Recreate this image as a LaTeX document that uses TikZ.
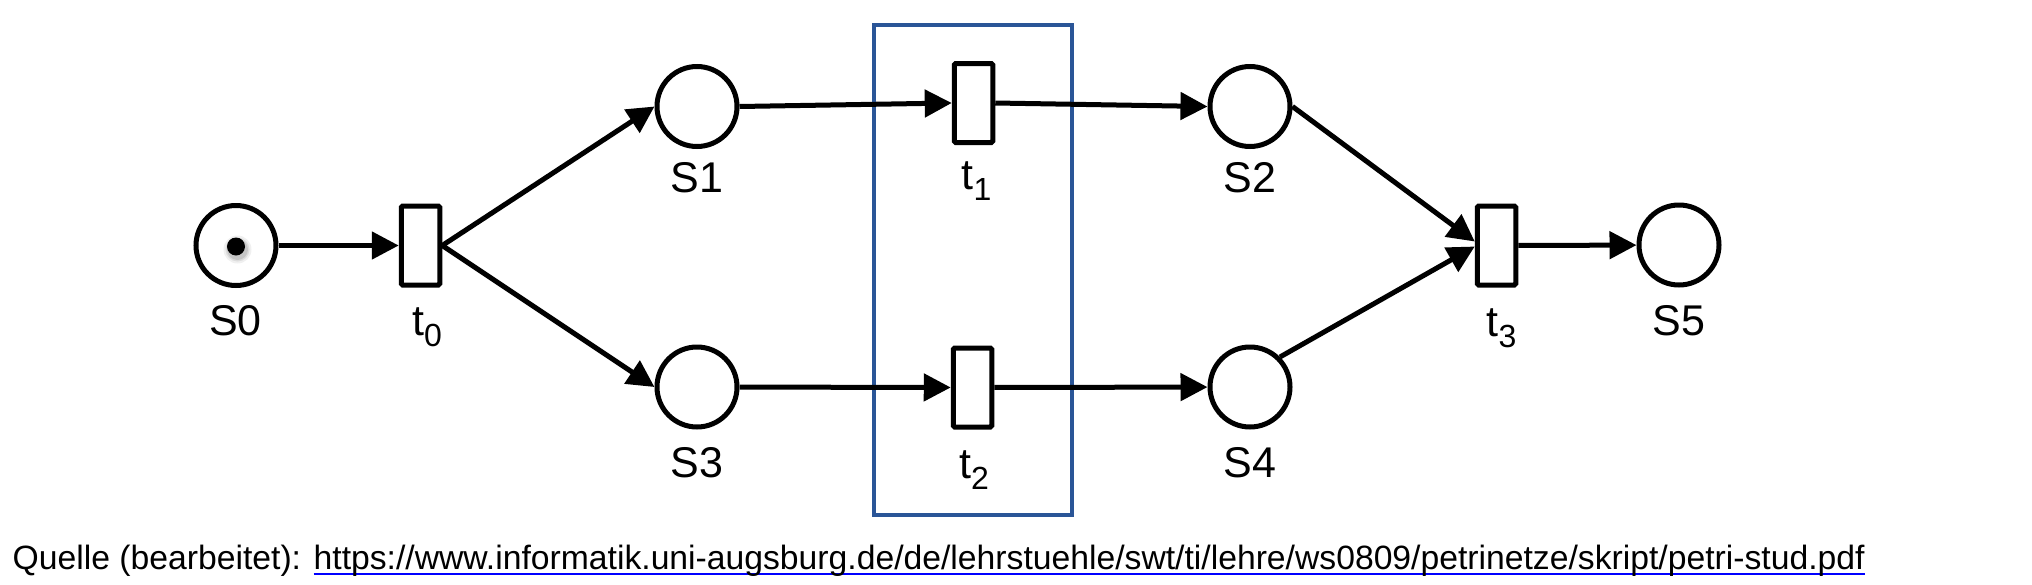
\documentclass[tikz,border=0pt]{standalone}
\usepackage{fontspec}
\setmainfont{Liberation Sans}
\usetikzlibrary{arrows.meta}
\definecolor{boxblue}{RGB}{42,85,151}
\definecolor{linkblue}{RGB}{0,0,255}
\newsavebox{\myurlbox}
\begin{document}
\begin{tikzpicture}[x=1pt,y=-1pt,
  place/.style={circle,draw,line width=5pt,minimum size=80pt,inner sep=0pt},
  trans/.style={rectangle,draw,fill=white,line width=5pt,minimum width=38.5pt,minimum height=79pt,inner sep=0pt,rounded corners=1.5pt},
  arc/.style={line width=5pt,-{Triangle[length=27pt,width=27pt]}},
  lbl/.style={font=\fontsize{43}{43}\selectfont,inner sep=0pt,anchor=base},
]
\useasboundingbox (0,0) rectangle (2032,584);
% highlight box
\node[draw=boxblue,line width=4pt,minimum width=198pt,minimum height=490pt,inner sep=0pt] (box) at (973,270) {};
% places
\node[place] (S0) at (236,245.5) {};
\node[place] (S1) at (697,106.5) {};
\node[place] (S3) at (697,387) {};
\node[place] (S2) at (1250,106.5) {};
\node[place] (S4) at (1250,387) {};
\node[place] (S5) at (1679,245) {};
% transitions
\node[trans] (t0) at (420.5,245.5) {};
\node[trans] (t1) at (973.5,103) {};
\node[trans] (t2) at (972.5,387.5) {};
\node[trans] (t3) at (1496.5,245.5) {};
% token
\foreach \r/\o in {14/0.06,12/0.08,10.5/0.1}
  \fill[black,opacity=\o] ([xshift=1.5pt,yshift=-4pt]S0.center) circle (\r pt);
\fill[black] ([yshift=-1pt]S0.center) circle (9pt);
% arcs
\draw[arc] (S0) -- (t0);
\draw[arc] (t0.east) -- (S1.west);
\draw[arc] (t0.east) -- (S3.west);
\draw[arc] (S1.east) -- (t1.west);
\draw[arc] (t1.east) -- (S2.west);
\draw[arc] (S3) -- (t2);
\draw[arc] (t2) -- (S4);
\draw[arc] (S2.east) -- ([yshift=4pt]t3.west);
\draw[arc] (S4.north east) -- ([yshift=-1pt]t3.west);
\draw[arc] (t3) -- (S5);
% labels
\node[lbl] (lS0) at (235.5,335) {S0};
\node[lbl] (lS1) at (697,192) {S1};
\node[lbl] (lS2) at (1250,192) {S2};
\node[lbl] (lS3) at (697,477) {S3};
\node[lbl] (lS4) at (1250,477) {S4};
\node[lbl] (lS5) at (1679,335) {S5};
\node[lbl] (lt0) at (427,335) {t\raisebox{-11pt}{\fontsize{32}{32}\selectfont 0}};
\node[lbl] (lt1) at (976.5,189) {t\raisebox{-11pt}{\fontsize{32}{32}\selectfont 1}};
\node[lbl] (lt2) at (974,478) {t\raisebox{-11pt}{\fontsize{32}{32}\selectfont 2}};
\node[lbl] (lt3) at (1501.5,336.5) {t\raisebox{-11pt}{\fontsize{32}{32}\selectfont 3}};
% source line
\node[font=\fontsize{33.7}{33.7}\selectfont,inner sep=0pt,anchor=base west] (src) at (12.5,569)
  {Quelle (bearbeitet): \sbox\myurlbox{https://www.informatik.uni-augsburg.de/de/lehrstuehle/swt/ti/lehre/ws0809/petrinetze/skript/petri-stud.pdf}\textcolor{linkblue}{\rlap{\rule[-6pt]{\wd\myurlbox}{2.5pt}}\usebox\myurlbox}};
\end{tikzpicture}
\end{document}
